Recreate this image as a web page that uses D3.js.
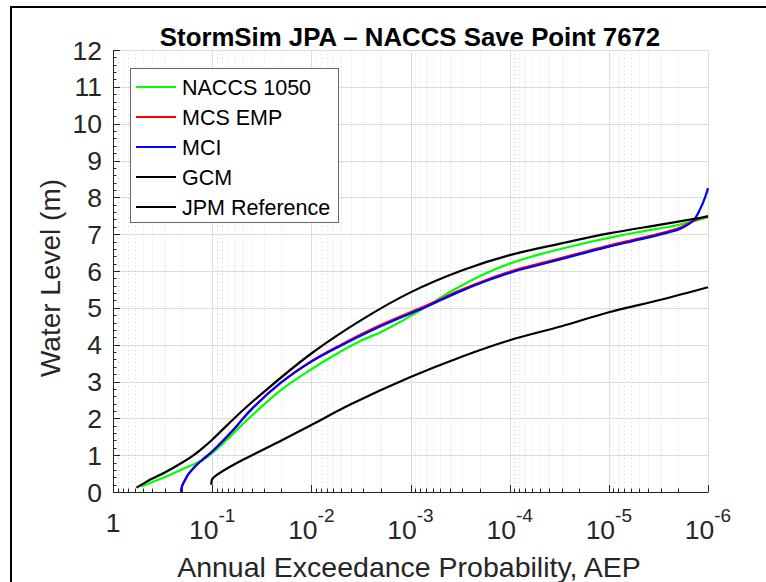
<!DOCTYPE html>
<html>
<head>
<meta charset="utf-8">
<script src="https://cdn.jsdelivr.net/npm/d3@7"></script>
<style>
  html, body { margin: 0; padding: 0; background: #fff; }
  svg { display: block; font-family: "Liberation Sans", Arial, sans-serif; }
</style>
</head>
<body>
<div id="chart"></div>
<script>
// series values: [AEP, water level (m)]
const naccs1050 = [
  [0.52, 0.15], [0.4, 0.27], [0.29, 0.42], [0.2, 0.62], [0.14, 0.8], [0.112, 0.95],
  [0.089, 1.17], [0.071, 1.42], [0.056, 1.7], [0.04, 2.07], [0.02, 2.78], [0.01, 3.33],
  [0.006, 3.7], [0.0032, 4.1], [0.002, 4.34], [0.0013, 4.6], [8.9e-4, 4.86], [6.3e-4, 5.1],
  [4e-4, 5.43], [2.5e-4, 5.73], [1.6e-4, 5.98], [1e-4, 6.2], [5e-5, 6.45], [2e-5, 6.72],
  [1e-5, 6.9], [5e-6, 7.06], [2e-6, 7.25], [1e-6, 7.46]
];
const mcsEmp = [
  [0.206, 0], [0.2, 0.18], [0.19, 0.3], [0.175, 0.47], [0.148, 0.7], [0.126, 0.87],
  [0.1, 1.1], [0.063, 1.65], [0.04, 2.25], [0.02, 2.98], [0.01, 3.55], [0.005, 4.0],
  [0.0025, 4.41], [0.0012, 4.79], [6.3e-4, 5.11], [3.2e-4, 5.47], [1.6e-4, 5.79], [1e-4, 5.98],
  [5e-5, 6.2], [2e-5, 6.48], [1e-5, 6.69], [5e-6, 6.88], [2.5e-6, 7.08], [1.9e-6, 7.18],
  [1.4e-6, 7.36], [1e-6, 7.5]
];
const mci = [
  [0.206, 0], [0.2, 0.18], [0.19, 0.3], [0.175, 0.47], [0.148, 0.7], [0.126, 0.87],
  [0.1, 1.1], [0.063, 1.65], [0.04, 2.25], [0.02, 2.98], [0.01, 3.54], [0.005, 3.98],
  [0.0025, 4.38], [0.0012, 4.76], [6.3e-4, 5.08], [3.2e-4, 5.44], [1.6e-4, 5.76], [1e-4, 5.95],
  [5e-5, 6.17], [2e-5, 6.45], [1e-5, 6.66], [5e-6, 6.85], [2.5e-6, 7.05], [1.9e-6, 7.15],
  [1.4e-6, 7.38], [1.2e-6, 7.68], [1.07e-6, 8.0], [1e-6, 8.25]
];
const gcm = [
  [0.102, 0.2], [0.1, 0.35], [0.089, 0.47], [0.078, 0.57], [0.05, 0.86], [0.02, 1.4],
  [0.01, 1.82], [0.004, 2.38], [0.001, 3.12], [3e-4, 3.68], [1e-4, 4.12], [3e-5, 4.5],
  [1e-5, 4.88], [3e-6, 5.22], [1e-6, 5.56]
];
const jpmReference = [
  [0.58, 0.12], [0.5, 0.22], [0.42, 0.34], [0.3, 0.53], [0.2, 0.8], [0.15, 1.02],
  [0.12, 1.23], [0.1, 1.42], [0.05, 2.2], [0.03, 2.72], [0.01, 3.76], [0.003, 4.7],
  [0.001, 5.42], [3e-4, 6.02], [1e-4, 6.43], [3e-5, 6.75], [1e-5, 7.02], [3e-6, 7.26],
  [1e-6, 7.48]
];

const seriesNames = ['NACCS 1050', 'MCS EMP', 'MCI', 'GCM', 'JPM Reference'];
const seriesColors = ['#00ff00', '#ff0000', '#0000ff', '#000000', '#000000'];
const seriesData = [naccs1050, mcsEmp, mci, gcm, jpmReference];

const xDecades = [0, 1, 2, 3, 4, 5, 6];           // tick labels 1, 10^-1 ... 10^-6
const yTicks = d3.range(0, 13);                    // 0 ... 12

const W = 766, H = 582;
const plot = { left: 113, right: 708, top: 50, bottom: 492 };
const axisColor = '#262626';

const svg = d3.select('#chart').append('svg')
  .attr('width', W).attr('height', H);

svg.append('rect').attr('width', W).attr('height', H).attr('fill', '#fff');

// photo frame edges
svg.append('path')
  .attr('d', `M11,${H} L11,7 L${W},7`)
  .attr('fill', 'none').attr('stroke', '#000').attr('stroke-width', 2);

const x = d3.scaleLog().domain([1, 1e-6]).range([plot.left, plot.right]);
const y = d3.scaleLinear().domain([0, 12]).range([plot.bottom, plot.top]);

// minor values on the log axis
const xMinor = [];
xDecades.slice(0, -1).forEach(k => {
  for (let m = 2; m <= 9; m++) xMinor.push(m * Math.pow(10, -(k + 1)));
});
const yMinor = d3.range(0, 12.001, 0.2).filter(v => Math.abs(v - Math.round(v)) > 1e-6);

// grid
const grid = svg.append('g');
grid.selectAll('.gx-minor').data(xMinor).join('line')
  .attr('x1', d => Math.round(x(d)) + 0.5).attr('x2', d => Math.round(x(d)) + 0.5)
  .attr('y1', plot.top).attr('y2', plot.bottom)
  .attr('stroke', '#d6d6d6').attr('stroke-dasharray', '1,3');
grid.selectAll('.gx').data(xDecades.slice(1)).join('line')
  .attr('x1', d => Math.round(x(Math.pow(10, -d))) + 0.5)
  .attr('x2', d => Math.round(x(Math.pow(10, -d))) + 0.5)
  .attr('y1', plot.top).attr('y2', plot.bottom)
  .attr('stroke', '#dcdcdc');
grid.selectAll('.gy').data(yTicks.slice(1)).join('line')
  .attr('x1', plot.left).attr('x2', plot.right)
  .attr('y1', d => Math.round(y(d)) + 0.5).attr('y2', d => Math.round(y(d)) + 0.5)
  .attr('stroke', '#dcdcdc');

// curves
const line = d3.line()
  .x(d => x(d[0]))
  .y(d => y(d[1]))
  .curve(d3.curveCatmullRom.alpha(0.5));

svg.append('g').selectAll('path').data(seriesData).join('path')
  .attr('d', line)
  .attr('fill', 'none')
  .attr('stroke', (d, i) => seriesColors[i])
  .attr('stroke-width', 2.2)
  .attr('stroke-linejoin', 'round');

// axes
const axes = svg.append('g').attr('stroke', axisColor).attr('stroke-width', 1);
axes.append('line')
  .attr('x1', plot.left).attr('x2', plot.right + 0.5)
  .attr('y1', plot.bottom + 0.5).attr('y2', plot.bottom + 0.5);
axes.append('line')
  .attr('x1', plot.left + 0.5).attr('x2', plot.left + 0.5)
  .attr('y1', plot.top).attr('y2', plot.bottom + 0.5);
axes.selectAll('.tx').data(xDecades).join('line')
  .attr('x1', d => Math.round(x(Math.pow(10, -d))) + 0.5)
  .attr('x2', d => Math.round(x(Math.pow(10, -d))) + 0.5)
  .attr('y1', plot.bottom).attr('y2', plot.bottom - 7);
axes.selectAll('.txm').data(xMinor).join('line')
  .attr('x1', d => Math.round(x(d)) + 0.5).attr('x2', d => Math.round(x(d)) + 0.5)
  .attr('y1', plot.bottom).attr('y2', plot.bottom - 3.5);
axes.selectAll('.ty').data(yTicks).join('line')
  .attr('x1', plot.left).attr('x2', plot.left + 7)
  .attr('y1', d => Math.round(y(d)) + 0.5).attr('y2', d => Math.round(y(d)) + 0.5);
axes.selectAll('.tym').data(yMinor).join('line')
  .attr('x1', plot.left).attr('x2', plot.left + 3.5)
  .attr('y1', d => Math.round(y(d)) + 0.5).attr('y2', d => Math.round(y(d)) + 0.5);

// y tick labels
svg.append('g').selectAll('text').data(yTicks).join('text')
  .attr('x', 102).attr('y', d => y(d) + 9.5)
  .attr('text-anchor', 'end')
  .attr('font-size', 26.5).attr('fill', axisColor)
  .text(d => d);

// x tick labels
const xl = svg.append('g').selectAll('text').data(xDecades).join('text')
  .attr('x', d => x(Math.pow(10, -d)))
  .attr('y', d => d === 0 ? 532 : 539)
  .attr('text-anchor', 'middle')
  .attr('font-size', 26.5).attr('fill', axisColor);
xl.filter(d => d === 0).text('1');
xl.filter(d => d > 0).each(function(d) {
  const t = d3.select(this);
  t.append('tspan').text('10');
  t.append('tspan').attr('dy', -17).attr('font-size', 19).text('-' + d);
});

// axis titles
svg.append('text')
  .attr('x', 409).attr('y', 577)
  .attr('text-anchor', 'middle')
  .attr('font-size', 28.5).attr('fill', axisColor)
  .text('Annual Exceedance Probability, AEP');
svg.append('text')
  .attr('transform', 'translate(60,278) rotate(-90)')
  .attr('text-anchor', 'middle')
  .attr('font-size', 28).attr('fill', axisColor)
  .text('Water Level (m)');
svg.append('text')
  .attr('x', 410).attr('y', 46)
  .attr('text-anchor', 'middle')
  .attr('font-size', 25.8).attr('font-weight', 'bold').attr('fill', '#000')
  .text('StormSim JPA \u2013 NACCS Save Point 7672');

// legend
const lg = svg.append('g');
lg.append('rect')
  .attr('x', 130.5).attr('y', 68.5).attr('width', 208).attr('height', 154)
  .attr('fill', '#fff').attr('stroke', '#666').attr('stroke-width', 1);
const items = lg.selectAll('.item').data(seriesNames).join('g')
  .attr('transform', (d, i) => `translate(0,${87 + i * 30})`);
items.append('line')
  .attr('x1', 136).attr('x2', 176)
  .attr('stroke', (d, i) => seriesColors[i]).attr('stroke-width', 2);
items.append('text')
  .attr('x', 182).attr('y', 7.5)
  .attr('font-size', 21.5).attr('fill', '#000')
  .text(d => d);
</script>
</body>
</html>
